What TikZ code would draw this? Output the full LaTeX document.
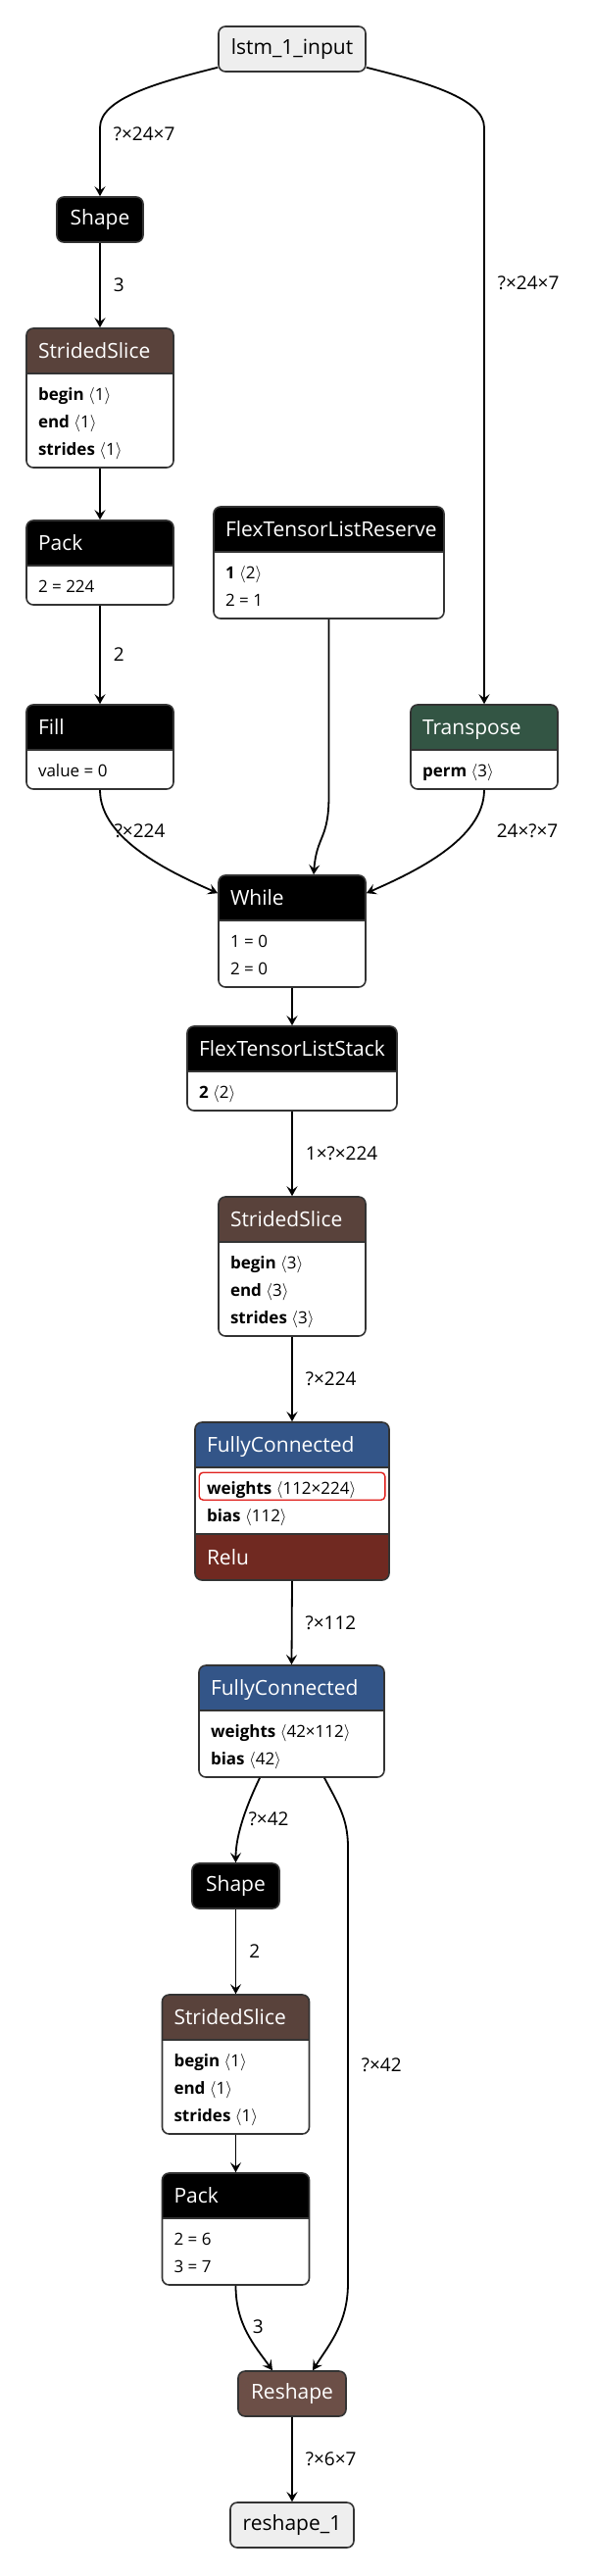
\documentclass[tikz,border=0pt]{standalone}
\usepackage{fontspec}
\setmainfont{Open Sans}
\usetikzlibrary{arrows.meta, positioning, calc}
\definecolor{cline}{HTML}{333333}
\definecolor{cio}{HTML}{EEEEEE}
\definecolor{ctensor}{HTML}{59423B}
\definecolor{cshape}{HTML}{6C4F47}
\definecolor{ctrans}{HTML}{335544}
\definecolor{clayer}{HTML}{335588}
\definecolor{cact}{HTML}{702921}
\definecolor{cmark}{HTML}{E0201C}
\newcommand{\nettitle}{\fontsize{21}{25}\selectfont}
\newcommand{\netattr}{\fontsize{17}{20}\selectfont}
\newcommand{\netlbl}{\fontsize{19}{22}\selectfont}
\newcommand{\shp}[1]{$\langle$#1$\rangle$}
\tikzset{
  every picture/.style={line width=1.6pt},
  io/.style={draw=cline, fill=cio, rounded corners=7pt, inner sep=0pt, minimum height=46pt, font=\nettitle},
  tag/.style={draw=cline, fill=#1, text=white, rounded corners=7pt, inner sep=0pt, minimum height=46pt, font=\nettitle},
  op/.style={draw=cline, fill=white, rounded corners=7pt, inner sep=0pt,
    path picture={
      \fill[#1, sharp corners] (path picture bounding box.north west) rectangle ([yshift=-46pt]path picture bounding box.north east);
      \draw[cline, sharp corners] ([yshift=-46pt]path picture bounding box.north west) -- ([yshift=-46pt]path picture bounding box.north east);}},
  opact/.style 2 args={draw=cline, fill=white, rounded corners=7pt, inner sep=0pt,
    path picture={
      \fill[#1, sharp corners] (path picture bounding box.north west) rectangle ([yshift=-46pt]path picture bounding box.north east);
      \fill[#2, sharp corners] (path picture bounding box.south west) rectangle ([yshift=47pt]path picture bounding box.south east);
      \draw[cline, sharp corners] ([yshift=-46pt]path picture bounding box.north west) -- ([yshift=-46pt]path picture bounding box.north east)
        ([yshift=47pt]path picture bounding box.south west) -- ([yshift=47pt]path picture bounding box.south east);}},
  head/.style={anchor=base west, inner sep=0pt, text=white, font=\nettitle},
  attr/.style={anchor=base west, inner sep=0pt, font=\netattr},
  edge/.style={-{Stealth[length=10pt, width=11pt, inset=4pt]}, line width=1.8pt},
  lbl/.style={anchor=west, inner sep=0pt, font=\netlbl},
}
\begin{document}
\begin{tikzpicture}[x=1pt, y=1pt]
  \path[use as bounding box, fill=white] (0,0) rectangle (604,-2628);
  % operators
  \node[io, minimum width=150pt] (inp) at (298,-50) {lstm\_1\_input};
  \node[tag=black, minimum width=88pt] (shape1) at (102,-224) {Shape};
  \node[op=ctensor, minimum width=150pt, minimum height=142pt] (ss1) at (102,-406) {};
  \node[op=black, minimum width=150pt, minimum height=86pt] (pack1) at (102,-574) {};
  \node[op=black, minimum width=150pt, minimum height=86pt] (fillop) at (102,-762) {};
  \node[op=black, minimum width=235pt, minimum height=114pt] (reserve) at (335.5,-574) {};
  \node[op=ctrans, minimum width=150pt, minimum height=86pt] (transpose) at (494,-762) {};
  \node[op=black, minimum width=150pt, minimum height=114pt] (loop) at (298,-950) {};
  \node[op=black, minimum width=214pt, minimum height=86pt] (stack) at (298,-1090) {};
  \node[op=ctensor, minimum width=150pt, minimum height=142pt] (ss2) at (298,-1292) {};
  \node[opact={clayer}{cact}, minimum width=198pt, minimum height=161pt] (fc1) at (298,-1531.5) {};
  \node[op=clayer, minimum width=189pt, minimum height=114pt] (fc2) at (297.5,-1756) {};
  \node[tag=black, minimum width=89pt] (shape2) at (240.5,-1924) {Shape};
  \node[op=ctensor, minimum width=150pt, minimum height=142pt] (ss3) at (240.5,-2106) {};
  \node[op=black, minimum width=150pt, minimum height=114pt] (pack2) at (240.5,-2274) {};
  \node[tag=cshape, minimum width=110pt] (reshape) at (298,-2442) {Reshape};
  \node[io, minimum width=126pt] (out) at (298,-2576) {reshape\_1};
  % titles and attributes
  \foreach \n/\t in {ss1/StridedSlice, pack1/Pack, fillop/Fill, reserve/FlexTensorListReserve, transpose/Transpose, loop/While, stack/FlexTensorListStack, ss2/StridedSlice, fc1/FullyConnected, fc2/FullyConnected, ss3/StridedSlice, pack2/Pack}
    \node[head] (\n-t) at ([shift={(12,-31)}]\n.north west) {\t};
  \node[head] (fc1-r) at ([shift={(12,-146)}]fc1.north west) {Relu};
  \foreach \n/\i/\t in {ss1/0/{\textbf{begin} \shp{1}}, ss1/1/{\textbf{end} \shp{1}}, ss1/2/{\textbf{strides} \shp{1}},
      pack1/0/{2 = 224}, fillop/0/{value = 0}, reserve/0/{\textbf{1} \shp{2}}, reserve/1/{2 = 1},
      transpose/0/{\textbf{perm} \shp{3}}, loop/0/{1 = 0}, loop/1/{2 = 0}, stack/0/{\textbf{2} \shp{2}},
      ss2/0/{\textbf{begin} \shp{3}}, ss2/1/{\textbf{end} \shp{3}}, ss2/2/{\textbf{strides} \shp{3}},
      fc1/0/{\textbf{weights} \shp{112×224}}, fc1/1/{\textbf{bias} \shp{112}},
      fc2/0/{\textbf{weights} \shp{42×112}}, fc2/1/{\textbf{bias} \shp{42}},
      ss3/0/{\textbf{begin} \shp{1}}, ss3/1/{\textbf{end} \shp{1}}, ss3/2/{\textbf{strides} \shp{1}},
      pack2/0/{2 = 6}, pack2/1/{3 = 7}}
    \node[attr] (\n-\i) at ([shift={(12,{-74-28*\i})}]\n.north west) {\t};
  \draw[cmark, rounded corners=4pt, line width=1.4pt] ([shift={(5,-52)}]fc1.north west) rectangle ([shift={(-5,-80)}]fc1.north east);
  % edges
  \draw[edge] ([yshift=5pt]inp.south west) .. controls +(-60,-15) and +(0,30) .. ($(shape1.north)+(0,70)$) -- node[lbl, right=13pt, pos=0.1] {?×24×7} (shape1.north);
  \draw[edge] (shape1.south) -- node[lbl, right=13pt] {3} (ss1.north);
  \draw[edge] (ss1.south) -- (pack1.north);
  \draw[edge] (pack1.south) -- node[lbl, right=13pt] {2} (fillop.north);
  \draw[edge] ([yshift=5pt]inp.south east) .. controls +(60,-15) and +(0,30) .. ($(transpose.north)+(0,588)$) -- node[lbl, right=13pt, pos=0.27] {?×24×7} (transpose.north);
  \draw[edge] (fillop.south) .. controls +(0,-50) and +(-50,22) .. ([yshift=-19pt]loop.north west);
  \draw[edge] (reserve.south) -- ($(reserve.south)+(0,-180)$) .. controls +(0,-45) and +(3,40) .. ([xshift=22pt]loop.north);
  \draw[edge] (transpose.south) .. controls +(0,-50) and +(50,22) .. ([yshift=-19pt]loop.north east);
  \node[lbl] (l-fill) at (116,-848) {?×224};
  \node[lbl] (l-trans) at (506,-848) {24×?×7};
  \draw[edge] (loop.south) -- (stack.north);
  \draw[edge] (stack.south) -- node[lbl, right=13pt] {1×?×224} (ss2.north);
  \draw[edge] (ss2.south) -- node[lbl, right=13pt] {?×224} (fc1.north);
  \draw[edge] (fc1.south) -- node[lbl, right=13pt] {?×112} (fc2.north);
  \draw[edge] ([xshift=-32.5pt]fc2.south) .. controls +(-12,-25) and +(0,30) .. (shape2.north);
  \node[lbl] (l-fc2) at (253,-1856) {?×42};
  \draw[edge] (shape2.south) -- node[lbl, right=13pt] {2} (ss3.north);
  \draw[edge] (ss3.south) -- (pack2.north);
  \draw[edge] (pack2.south) .. controls +(0,-40) and +(-18,25) .. ([xshift=-20pt]reshape.north);
  \node[lbl] (l-pack) at (257,-2374) {3};
  \draw[edge] ([xshift=33.5pt]fc2.south) .. controls +(13,-25) and +(0,30) .. ($(reshape.north)+(57,534)$) -- node[lbl, right=13pt] {?×42} ($(reshape.north)+(57,89)$) .. controls +(0,-40) and +(18,28) .. ([xshift=21pt]reshape.north);
  \draw[edge] (reshape.south) -- node[lbl, right=13pt] {?×6×7} (out.north);
\end{tikzpicture}
\end{document}
